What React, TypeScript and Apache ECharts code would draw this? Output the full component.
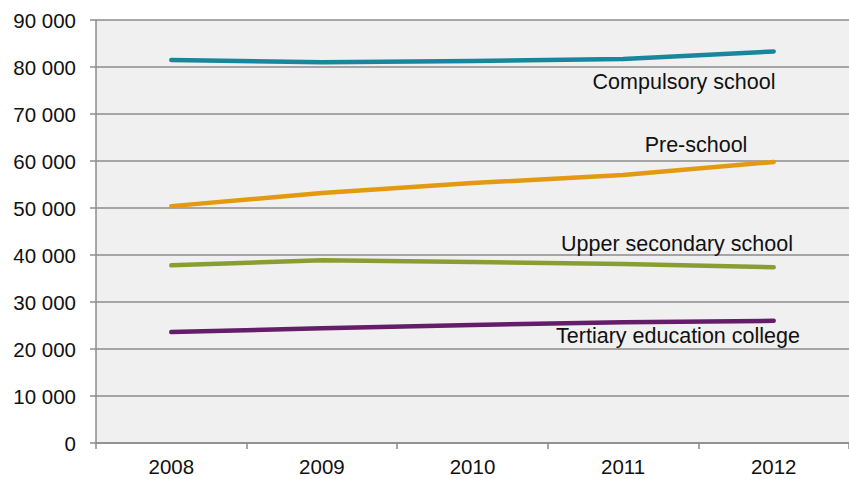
import React, { useEffect, useRef } from "react";
import * as echarts from "echarts";

const years = ["2008", "2009", "2010", "2011", "2012"];
const compulsory = [81500, 81000, 81300, 81700, 83300];
const preSchool = [50400, 53200, 55300, 57000, 59800];
const upperSecondary = [37800, 38900, 38500, 38100, 37400];
const tertiary = [23600, 24400, 25100, 25700, 26000];
const seriesNames = ["Compulsory school", "Pre-school", "Upper secondary school", "Tertiary education college"];
const seriesColors = ["#18879e", "#e39a10", "#899e32", "#641d68"];

const fmt = (v: number) => {
  if (v === 0) return "0";
  const s = String(v);
  return s.slice(0, s.length - 3) + " " + s.slice(-3);
};

export default function App() {
  const ref = useRef<HTMLDivElement>(null);
  useEffect(() => {
    const chart = echarts.init(ref.current!, null, { renderer: "svg" });
    const data = [compulsory, preSchool, upperSecondary, tertiary];
    const labelPos = [
      [684, 82],
      [696, 145],
      [677, 244],
      [678, 336],
    ];
    chart.setOption({
      animation: false,
      backgroundColor: "#ffffff",
      textStyle: { fontFamily: "Liberation Sans, Arial, sans-serif" },
      grid: {
        left: 96,
        top: 20,
        right: -10,
        bottom: 36,
        show: true,
        backgroundColor: "#f0f0f0",
        borderWidth: 0,
      },
      xAxis: {
        type: "category",
        data: years,
        boundaryGap: true,
        axisLine: { lineStyle: { color: "#8c8c8c", width: 1.5 } },
        axisTick: { show: true, length: 6, lineStyle: { color: "#8c8c8c", width: 1.5 } },
        axisLabel: { color: "#111", fontSize: 20.5, margin: 13 },
      },
      yAxis: {
        type: "value",
        min: 0,
        max: 90000,
        interval: 10000,
        axisLine: { show: true, lineStyle: { color: "#8c8c8c", width: 1.5 } },
        axisTick: { show: true, length: 6, lineStyle: { color: "#8c8c8c", width: 1.5 } },
        splitLine: { show: true, lineStyle: { color: "#8c8c8c", width: 1.5 } },
        axisLabel: { color: "#111", fontSize: 20.5, margin: 20, formatter: fmt },
      },
      series: data.map((d, i) => ({
        name: seriesNames[i],
        type: "line",
        data: d,
        symbol: "none",
        lineStyle: { color: seriesColors[i], width: 4.5, cap: "round", join: "round" },
        z: 3,
      })),
      graphic: seriesNames.map((n, i) => ({
        type: "text",
        x: labelPos[i][0],
        y: labelPos[i][1],
        z: 10,
        style: {
          text: n,
          fill: "#111",
          fontSize: 21.5,
          fontFamily: "Liberation Sans, Arial, sans-serif",
          align: "center",
          verticalAlign: "middle",
        },
      })),
    });
    return () => chart.dispose();
  }, []);
  return <div ref={ref} style={{ width: 849, height: 479, position: "absolute", left: 0, top: 0 }} />;
}
